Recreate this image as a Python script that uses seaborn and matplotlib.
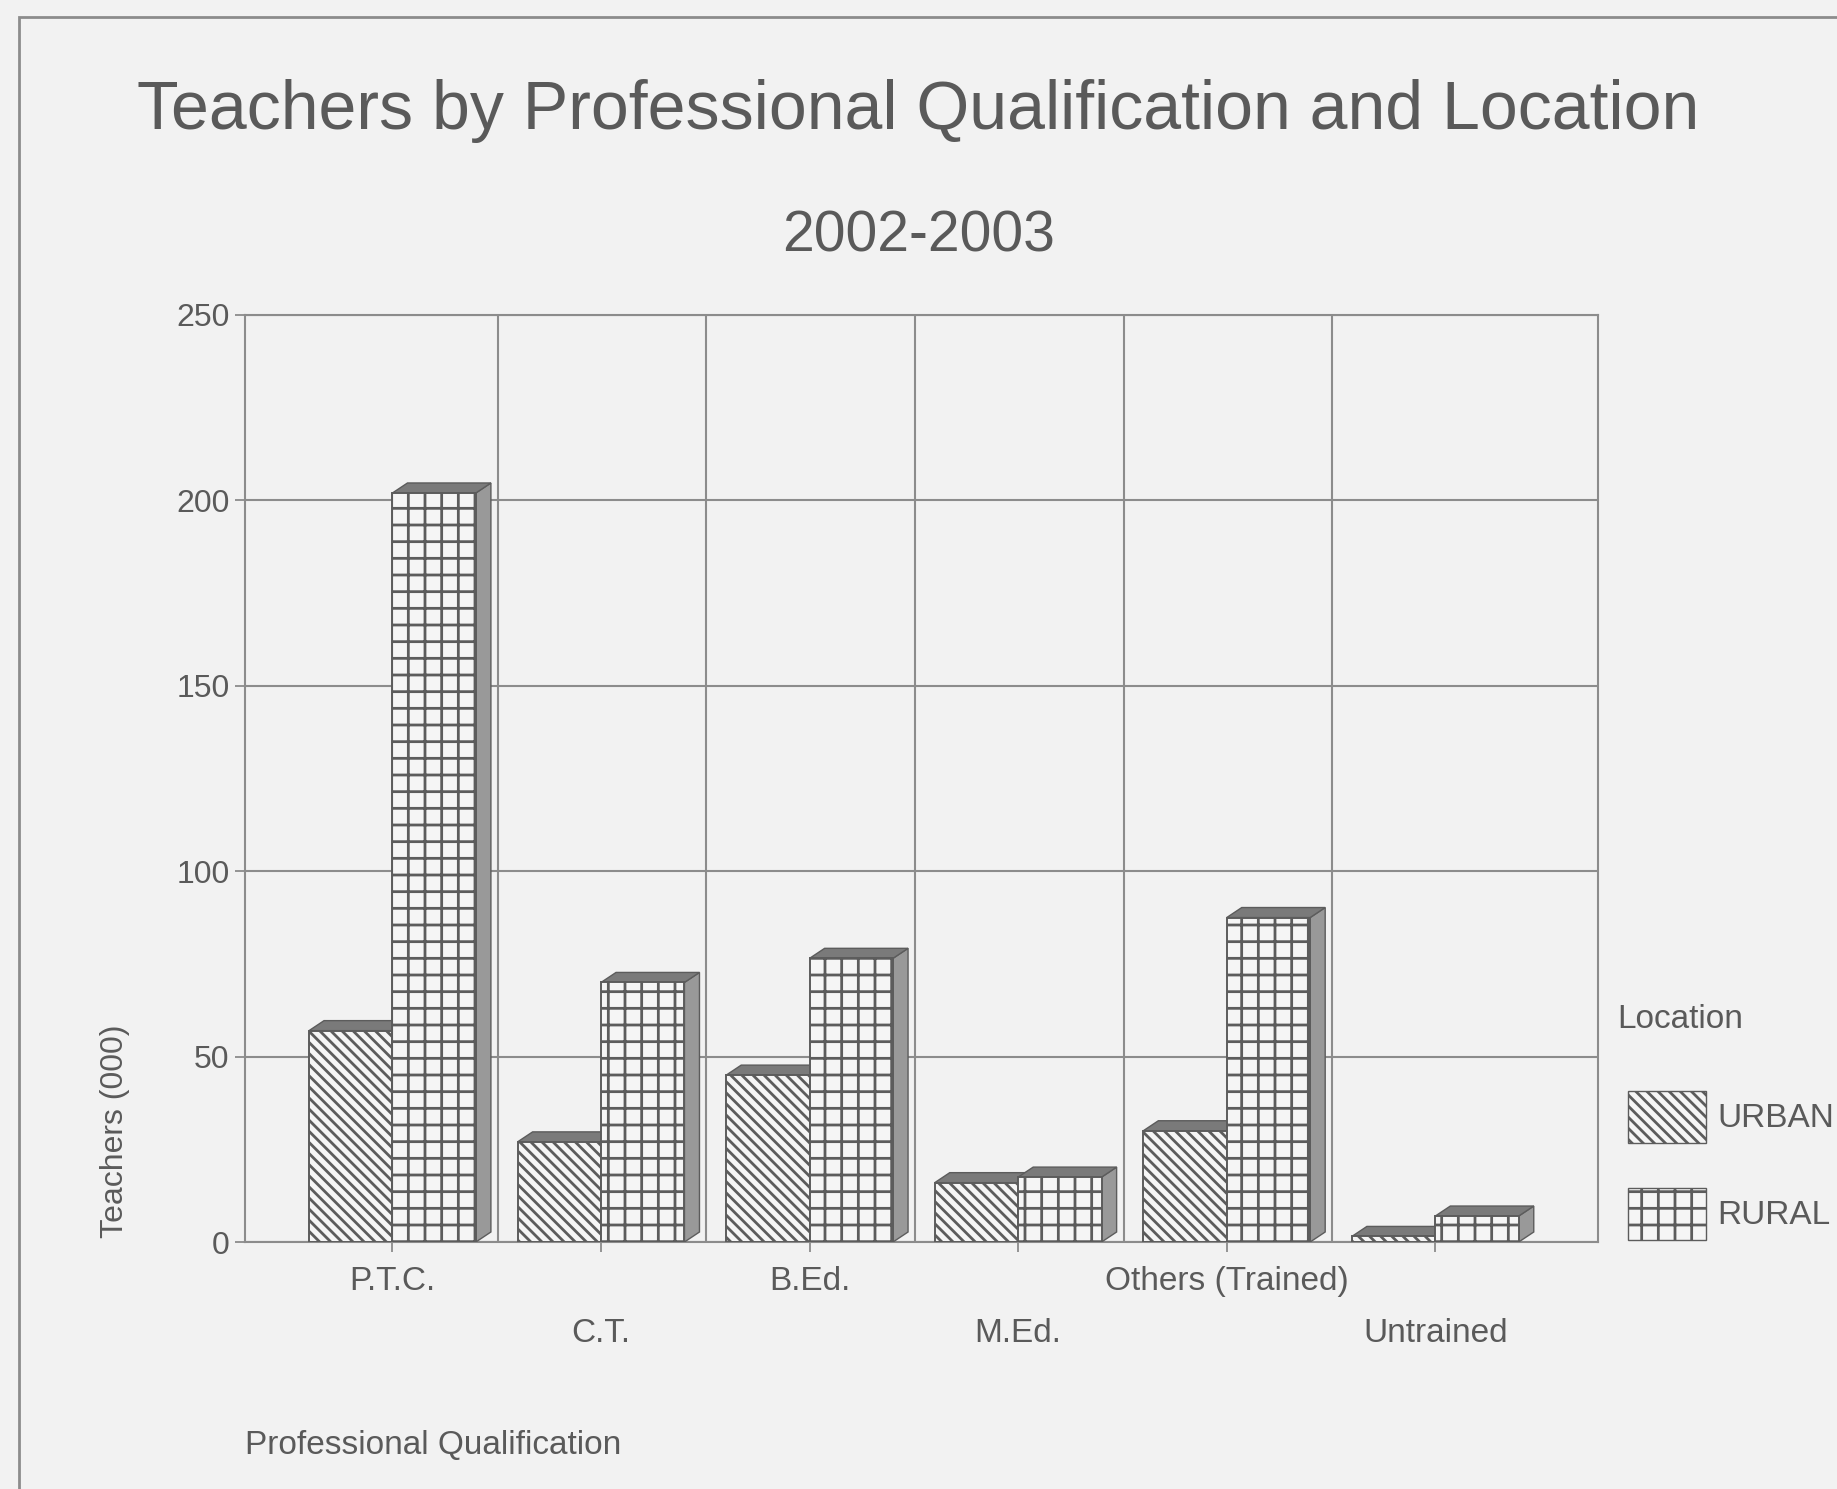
import matplotlib
matplotlib.use('Agg')
import matplotlib.pyplot as plt
from matplotlib.patches import Polygon, Patch, Rectangle
import numpy as np
import pandas as pd
import seaborn as sns

# --- Data ---
qualifications = ['P.T.C.', 'C.T.', 'B.Ed.', 'M.Ed.', 'Others (Trained)', 'Untrained']
locations = ['URBAN', 'RURAL']
urban_teachers = [57, 27, 45, 16, 30, 1.5]
rural_teachers = [202, 70, 76.5, 17.5, 87.5, 7]
y_ticks = [0, 50, 100, 150, 200, 250]

TITLE = 'Teachers by Professional Qualification and Location'
SUBTITLE = '2002-2003'

# --- Style ---
BG = '#f2f2f2'
LINE = '#8c8c8c'
TEXT = '#5a5a5a'
EDGE = '#5c5c5c'
FACE = '#f5f5f5'
SIDE = '#999999'
TOP = '#7a7a7a'

sns.set_theme(style='white')
plt.rcParams['font.family'] = ['Liberation Sans', 'DejaVu Sans']
plt.rcParams['hatch.linewidth'] = 2.0

df = pd.DataFrame({
    'Qualification': qualifications * 2,
    'Location': ['URBAN'] * len(qualifications) + ['RURAL'] * len(qualifications),
    'Teachers': urban_teachers + rural_teachers,
})

W, H = 1837, 1489
fig = plt.figure(figsize=(W / 100, H / 100), dpi=100, facecolor=BG)
ax = fig.add_axes([245 / W, 1 - 1242 / H, (1598 - 245) / W, (1242 - 315) / H])
ax.set_facecolor(BG)

sns.barplot(data=df, x='Qualification', y='Teachers', hue='Location',
            order=qualifications, hue_order=locations,
            palette=[FACE, FACE], saturation=1, width=0.8,
            edgecolor=EDGE, linewidth=1.4, legend=False, ax=ax)

# fake 3D depth: side and top faces for every bar
dx, dy = 0.072, 2.7
hatches = ['\\\\\\', '+']
for k, (cont, hatch) in enumerate(zip(ax.containers, hatches)):
    for bar in cont:
        bar.set_hatch(hatch)
        bar.set_zorder(3 + 2 * k)
        x0, w, h = bar.get_x(), bar.get_width(), bar.get_height()
        side = Polygon([(x0 + w, 0), (x0 + w + dx, dy), (x0 + w + dx, h + dy), (x0 + w, h)],
                       closed=True, fc=SIDE, ec=EDGE, lw=1, zorder=2.5 + 2 * k)
        top = Polygon([(x0, h), (x0 + dx, h + dy), (x0 + w + dx, h + dy), (x0 + w, h)],
                      closed=True, fc=TOP, ec=EDGE, lw=1, zorder=2.6 + 2 * k)
        ax.add_patch(side)
        ax.add_patch(top)

ax.set_xlim(-0.707, 5.78)
ax.set_ylim(0, 250)
ax.set_xlabel('')
ax.set_ylabel('')

# staggered category labels: even on major ticks, odd on minor ticks further down
pos = np.arange(len(qualifications))
ax.set_xticks(pos[::2], labels=qualifications[::2])
ax.set_xticks(pos[1::2], labels=qualifications[1::2], minor=True)
ax.tick_params(axis='x', which='major', bottom=True, length=7, width=1.3, color=LINE,
               pad=10, labelsize=24, labelcolor=TEXT)
ax.tick_params(axis='x', which='minor', bottom=True, length=7, width=1.3, color=LINE,
               pad=48, labelsize=24, labelcolor=TEXT)
ax.set_yticks(y_ticks)
ax.tick_params(axis='y', left=True, length=7, width=1.3, color=LINE,
               pad=4, labelsize=23, labelcolor=TEXT)

ax.set_axisbelow(True)
ax.yaxis.grid(True, color=LINE, lw=1.5)
ax.xaxis.grid(False)
for b in pos[:-1] + 0.5:
    ax.axvline(b + 0.005, color=LINE, lw=1.5, zorder=1)
for s in ax.spines.values():
    s.set_visible(True)
    s.set_color(LINE)
    s.set_linewidth(1.5)

fig.text(0.5, 1 - 111 / H, TITLE, ha='center', va='center', fontsize=49, color=TEXT)
fig.text(0.5, 1 - 236 / H, SUBTITLE, ha='center', va='center', fontsize=41, color=TEXT)
fig.text(115 / W, 1 - 1131 / H, 'Teachers (000)', rotation=90, ha='center', va='center',
         fontsize=23, color=TEXT)
fig.text(245 / W, 1 - 1445 / H, 'Professional Qualification', ha='left', va='center',
         fontsize=24, color=TEXT)

# legend: title as plain text, entries below it
fig.text(1617 / W, 1 - 1019 / H, 'Location', ha='left', va='center', fontsize=24, color=TEXT)
handles = [Patch(fc=FACE, ec=EDGE, hatch=h, label=l) for h, l in zip(hatches, locations)]
leg = fig.legend(handles=handles, loc='upper left',
                 bbox_to_anchor=(1628 / W, 1 - 1091 / H), frameon=False,
                 fontsize=24, handlelength=2.35, handleheight=2.0,
                 labelspacing=1.37, handletextpad=0.33, borderaxespad=0, borderpad=0)
for t in leg.get_texts():
    t.set_color(TEXT)

# outer frame of the scanned page (only top and left edges are visible)
fig.patches.append(Rectangle((19 / W, -0.1), 1.2, 1 - 17 / H + 0.1, transform=fig.transFigure,
                             fill=False, ec=LINE, lw=2))

fig.savefig('out.png', dpi=100, facecolor=BG)
